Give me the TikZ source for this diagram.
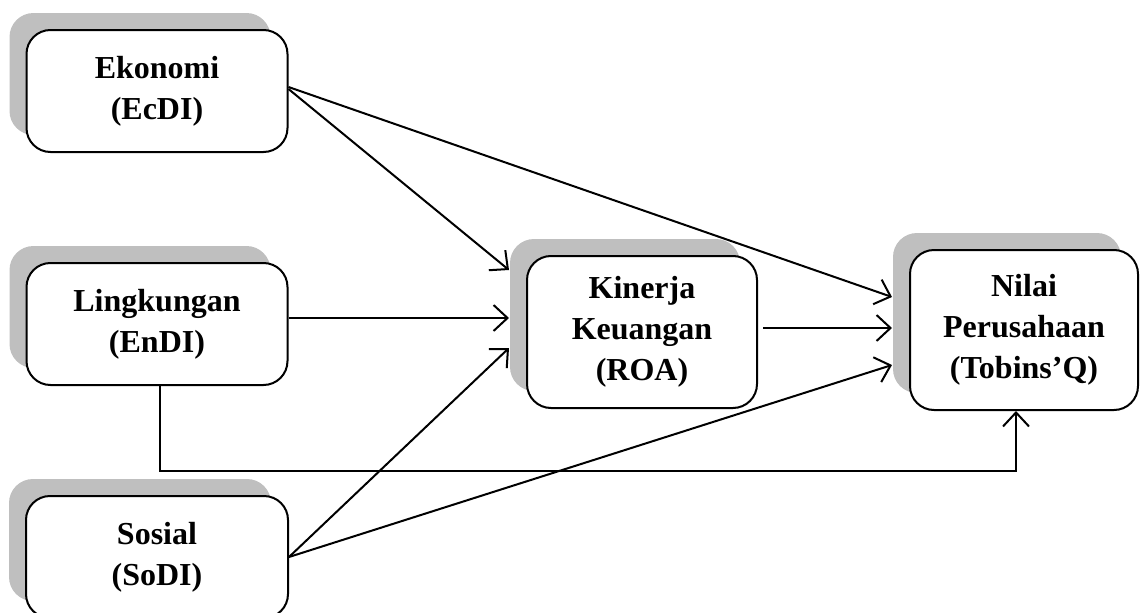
\documentclass[tikz,border=0pt]{standalone}
\usepackage{fontspec}
\setmainfont{Liberation Serif}
\usetikzlibrary{shadows,arrows.meta}

\begin{document}
\begin{tikzpicture}[x=1pt, y=-1pt, node distance=233pt,
    main node/.style={draw, line width=2pt, rounded corners=24pt, fill=white, align=center, inner sep=0pt,
      drop shadow={shadow xshift=-17pt, shadow yshift=17pt, fill=black!25, opacity=1},
      font=\bfseries\fontsize{32}{41}\selectfont},
    >={Straight Barb[length=14pt,width=26pt]}]
  \useasboundingbox (0,0) rectangle (1144,613);

  \node[main node, minimum width=261pt, minimum height=122pt] (eko) at (157,91) {Ekonomi\\(EcDI)};
  \node[main node, minimum width=261pt, minimum height=122pt] (ling) [below of=eko] {Lingkungan\\(EnDI)};
  \node[main node, minimum width=262pt, minimum height=122pt] (sos) [below of=ling] {Sosial\\(SoDI)};
  \node[main node, minimum width=230pt, minimum height=152pt] (kin) at (642,332) {Kinerja\\Keuangan\\(ROA)};
  \node[main node, minimum width=228pt, minimum height=160pt] (nil) at (1024,330) {Nilai\\Perusahaan\\(Tobins'Q)};

  \path[->, line width=2pt, every edge/.style={draw, line width=2pt}]
    ([yshift=2pt]eko.east) edge ([xshift=-17pt,yshift=62pt]kin.west)
    ([yshift=4pt]eko.east) edge ([xshift=-17pt,yshift=33pt]nil.west)
    ([yshift=6pt]ling.east) edge ([xshift=-17pt,yshift=14pt]kin.west)
    ([xshift=5pt,yshift=4pt]kin.east) edge ([xshift=-17pt,yshift=2pt]nil.west)
    (sos.east) edge ([xshift=-17pt,yshift=-16pt]kin.west)
    (sos.east) edge ([xshift=-17pt,yshift=-35pt]nil.west);

  \draw[->, line width=2pt] ([xshift=3pt]ling.south) -- ++(0,85) -| ([xshift=-8pt]nil.south);
\end{tikzpicture}
\end{document}
